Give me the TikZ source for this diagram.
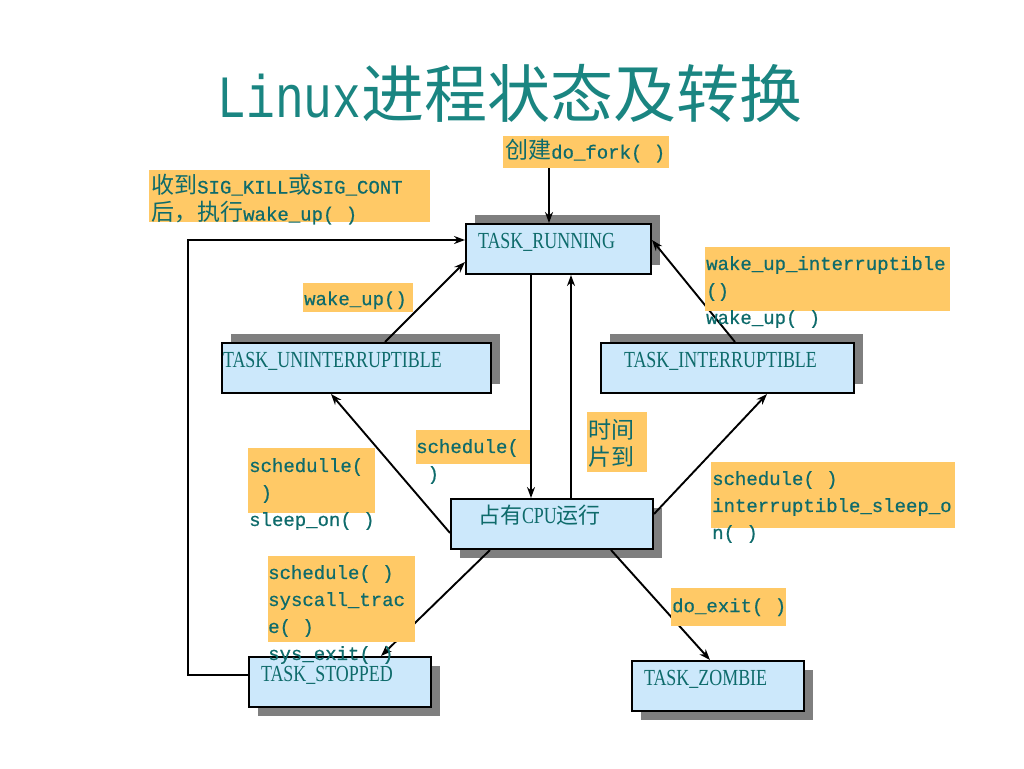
\documentclass[tikz,border=0pt]{standalone}
\usepackage{fontspec}
\setmainfont{Liberation Mono}[FakeBold=0.6]
\newfontfamily\cjk{Noto Sans CJK SC}
\newfontfamily\boxfont{Liberation Serif}[FakeStretch=0.78]
\newfontfamily\titlefont{Liberation Mono}[FakeStretch=0.8]
\usepackage{xcolor}
\usepackage{tikz}
\usetikzlibrary{arrows.meta}
\usetikzlibrary{shapes,arrows,shadows,calc}
\definecolor{boxblue}{HTML}{CCE8FB}
\definecolor{shadowgray}{HTML}{7F7F7F}
\definecolor{tagorange}{HTML}{FFC966}
\definecolor{tealtext}{HTML}{0E6B6B}
\definecolor{titleteal}{HTML}{1A8581}
\newcommand{\zh}[1]{{\cjk\fontsize{23}{27}\selectfont #1}}
\tikzstyle{trans} = [line width=1.9pt,-{Stealth[length=11pt,width=8pt]}]
\tikzstyle{state} = [draw=black, line width=2pt, fill=boxblue, anchor=north west, inner sep=0pt, minimum height=50, text height=24pt, text depth=26pt, align=left, text=tealtext, font=\boxfont\fontsize{23}{26}\selectfont]
\tikzstyle{up shadow} = [drop shadow={shadow xshift=9pt, shadow yshift=9pt, fill=shadowgray, opacity=1}]
\tikzstyle{down shadow} = [drop shadow={shadow xshift=9pt, shadow yshift=-9pt, fill=shadowgray, opacity=1}]
\tikzstyle{tag} = [anchor=north west, inner sep=0pt, align=left, text=tealtext, font=\fontsize{19}{27}\selectfont, execute at begin node=\strut]

\begin{document}
\begin{tikzpicture}[
            x=1pt, y=-1pt
        ]
            \useasboundingbox (0,0) rectangle (1024,768);

            \node[text=titleteal] (title) at (510,93) {\titlefont\fontsize{60}{60}\selectfont Linux{\cjk\fontsize{63}{70}\selectfont 进程状态及转换}};

            \node[state, up shadow, text width=185] (run) at (465,223) {\hspace*{12pt}TASK\_RUNNING};
            \node[state, up shadow, text width=269] (unint) at (221,342) {\hspace*{1pt}TASK\_UNINTERRUPTIBLE};
            \node[state, up shadow, text width=253] (inter) at (600,342) {\hspace*{23pt}TASK\_INTERRUPTIBLE};
            \node[state, down shadow, text width=202] (cpu) at (450,498) {\hspace*{27pt}{\cjk\fontsize{22}{24}\selectfont 占有}CPU{\cjk\fontsize{22}{24}\selectfont 运行}};
            \node[state, down shadow, text width=182] (stop) at (248,656) {\hspace*{12pt}TASK\_STOPPED};
            \node[state, down shadow, text width=172] (zomb) at (631,660) {\hspace*{12pt}TASK\_ZOMBIE};

            \draw[trans] ($(run.south west)+(66,0)$) -- ($(cpu.north west)+(81,0)$);
            \draw[trans] ($(cpu.north west)+(121,0)$) -- ($(run.south west)+(106,0)$);
            \draw[trans] ($(unint.north west)+(164,0)$) -- ($(run.north west)+(0,39)$);
            \draw[trans] ($(inter.north west)+(135,0)$) -- ($(run.north east)+(0,17)$);
            \draw[trans] ($(cpu.north west)+(0,35)$) -- ($(unint.south west)+(110,0)$);
            \draw[trans] ($(cpu.north east)+(0,16)$) -- ($(inter.south west)+(167,0)$);
            \draw[trans] ($(cpu.south west)+(40,0)$) -- ($(stop.north west)+(133,0)$);
            \draw[trans] ($(cpu.south west)+(161,0)$) -- ($(zomb.north west)+(79,0)$);
            \draw[trans] ($(stop.north west)+(0,19)$) -- ++(-60,0) |- ($(run.north west)+(0,17)$);

            \fill[tagorange] (503,136) rectangle (669,168);
            \fill[tagorange] (149,170) rectangle (430,222);
            \fill[tagorange] (303,283) rectangle (413,312);
            \fill[tagorange] (705,247) rectangle (950,311);
            \fill[tagorange] (248,448) rectangle (375,513);
            \fill[tagorange] (416,430) rectangle (530,464);
            \fill[tagorange] (587,412) rectangle (647,472);
            \fill[tagorange] (711,462) rectangle (955,528);
            \fill[tagorange] (268,556) rectangle (415,642);
            \fill[tagorange] (671,588) rectangle (786,626);

            \node[tag] (fork) at (505,139) {\zh{创建}do\_fork( )};
            \node[tag] (sigkill) at (151,174) {\zh{收到}SIG\_KILL\zh{或}SIG\_CONT\\\zh{后，执行}wake\_up( )};
            \node[tag] (wakeup) at (304,286) {wake\_up()};
            \node[tag] (wakeint) at (706,256) {wake\_up\_interruptible\\()\\wake\_up( )};
            \node[tag] (sleepon) at (249,458) {schedulle(\\{}\ )\\sleep\_on( )};
            \node[tag] (sched) at (416,439) {schedule(\\{}\ )};
            \node[tag] (slice) at (588,419) {\zh{时间}\\\zh{片到}};
            \node[tag] (intsleep) at (712,471) {schedule( )\\interruptible\_sleep\_o\\n( )};
            \node[tag] (trace) at (268,565) {schedule( )\\syscall\_trac\\e( )\\sys\_exit( )};
            \node[tag] (doexit) at (672,593) {do\_exit( )};

            \coordinate (forkbot) at (549,168);
            \draw[trans] (forkbot) -- (forkbot |- run.north);

        \end{tikzpicture}
\end{document}
